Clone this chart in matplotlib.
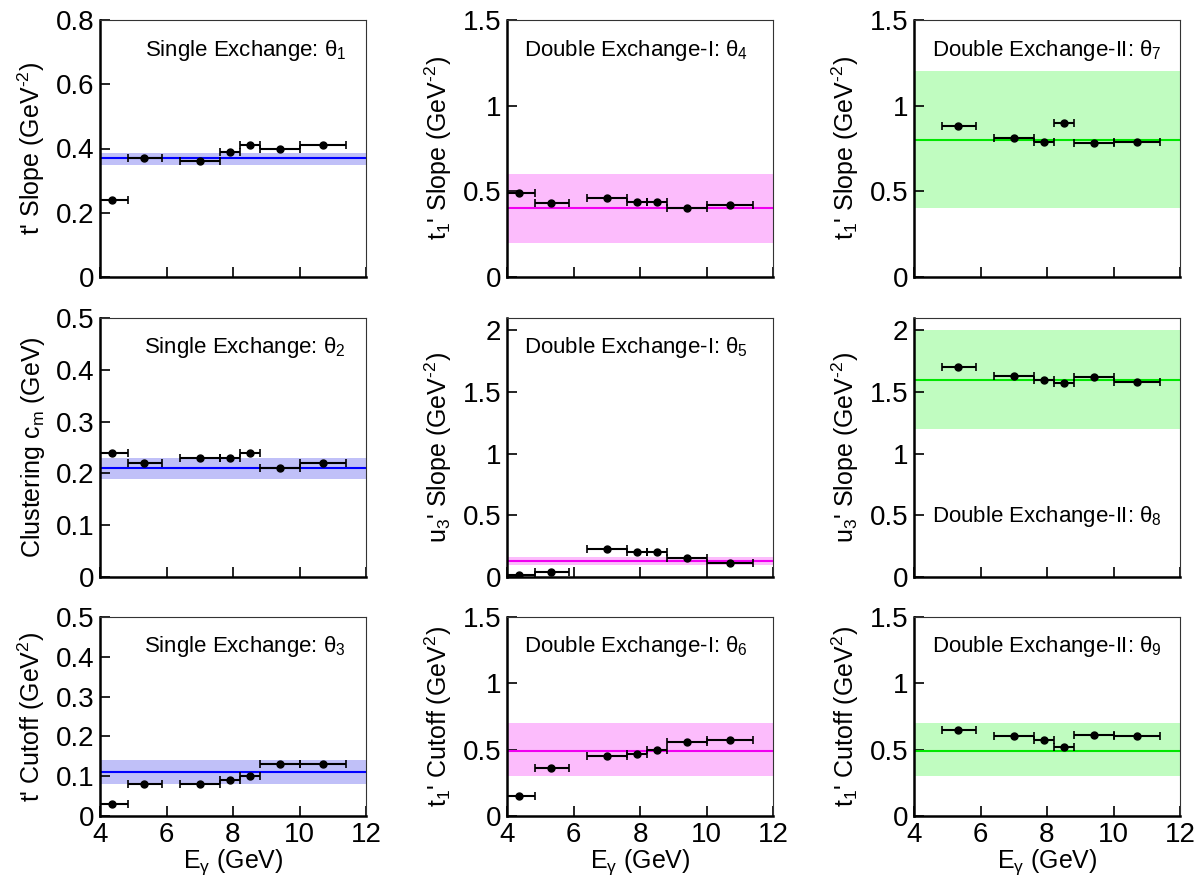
import numpy as np
import matplotlib
matplotlib.use("Agg")
import matplotlib.pyplot as plt
from matplotlib.ticker import FuncFormatter

plt.rcParams['font.family'] = ['Liberation Sans', 'DejaVu Sans']
plt.rcParams['mathtext.fontset'] = 'custom'
plt.rcParams['mathtext.rm'] = 'Liberation Sans'
plt.rcParams['mathtext.it'] = 'Liberation Sans'

# photon energy bins (GeV): centre, lower edge, upper edge
e_cen = [4.35, 5.33, 7.0, 7.9, 8.5, 9.4, 10.7]
e_lo = [4.0, 4.83, 6.4, 7.6, 8.2, 8.8, 10.0]
e_hi = [4.85, 5.85, 7.6, 8.2, 8.8, 10.0, 11.4]

# fitted parameters per bin
theta1 = [0.24, 0.37, 0.36, 0.39, 0.41, 0.40, 0.41]
theta2 = [0.24, 0.22, 0.23, 0.23, 0.24, 0.21, 0.22]
theta3 = [0.03, 0.08, 0.08, 0.09, 0.10, 0.13, 0.13]
theta4 = [0.49, 0.43, 0.46, 0.44, 0.44, 0.40, 0.42]
theta5 = [0.015, 0.04, 0.225, 0.205, 0.205, 0.155, 0.115]
theta6 = [0.15, 0.36, 0.45, 0.47, 0.50, 0.56, 0.57]
theta7 = [None, 0.88, 0.81, 0.79, 0.90, 0.78, 0.79]
theta8 = [None, 1.70, 1.63, 1.60, 1.57, 1.62, 1.58]
theta9 = [None, 0.65, 0.60, 0.57, 0.52, 0.61, 0.60]

# nominal value and allowed range (band) per parameter
nominal = [0.37, 0.21, 0.11, 0.40, 0.13, 0.49, 0.80, 1.60, 0.49]
band_lo = [0.35, 0.19, 0.08, 0.20, 0.10, 0.30, 0.40, 1.20, 0.30]
band_hi = [0.385, 0.23, 0.14, 0.60, 0.16, 0.70, 1.20, 2.00, 0.70]

titles = [r'Single Exchange: $\theta_1$', r'Single Exchange: $\theta_2$',
          r'Single Exchange: $\theta_3$',
          r'Double Exchange-I: $\theta_4$', r'Double Exchange-I: $\theta_5$',
          r'Double Exchange-I: $\theta_6$',
          r'Double Exchange-II: $\theta_7$', r'Double Exchange-II: $\theta_8$',
          r'Double Exchange-II: $\theta_9$']

ylabels = [r"t' Slope (GeV$^{\text{-2}}$)", r"Clustering c$_{m}$ (GeV)",
           r"t' Cutoff (GeV$^{2}$)",
           r"t$_1$' Slope (GeV$^{\text{-2}}$)", r"u$_3$' Slope (GeV$^{\text{-2}}$)",
           r"t$_1$' Cutoff (GeV$^{2}$)",
           r"t$_1$' Slope (GeV$^{\text{-2}}$)", r"u$_3$' Slope (GeV$^{\text{-2}}$)",
           r"t$_1$' Cutoff (GeV$^{2}$)"]

ylims = [0.8, 0.5, 0.5, 1.5, 2.1, 1.5, 1.5, 2.1, 1.5]
ysteps = [0.2, 0.1, 0.1, 0.5, 0.5, 0.5, 0.5, 0.5, 0.5]

series = [theta1, theta2, theta3, theta4, theta5, theta6, theta7, theta8, theta9]
band_colors = ['#c0c0f8', '#fcbcfc', '#c0fcc0']
line_colors = ['#0000ff', '#f000f0', '#00e600']

fig = plt.figure(figsize=(11.96, 8.82), dpi=100)
W, H = 1196, 882
col_left = [100, 507, 914]
col_w = 266
rows = [(20, 277), (318, 577), (617, 816)]
title_dx = [20, 25, 18]
title_y = [0.883, 0.888, 0.854]

for i in range(9):
    col, row = i // 3, i % 3
    top, bot = rows[row]
    ax = fig.add_axes([col_left[col] / W, 1 - bot / H, col_w / W, (bot - top) / H])

    ax.axhspan(band_lo[i], band_hi[i], color=band_colors[col], lw=0, zorder=1)
    ax.axhline(nominal[i], color=line_colors[col], lw=1.5, zorder=2)

    ys = series[i]
    idx = [k for k in range(len(ys)) if ys[k] is not None]
    x = np.array([e_cen[k] for k in idx])
    y = np.array([ys[k] for k in idx])
    xerr = np.array([[e_cen[k] - e_lo[k] for k in idx],
                     [e_hi[k] - e_cen[k] for k in idx]])
    ax.errorbar(x, y, xerr=xerr, fmt='o', color='black', ms=5,
                elinewidth=1.5, capsize=3, capthick=1.2, zorder=3)

    ax.set_xlim(4, 12)
    ax.set_ylim(0, ylims[i])
    ax.set_xticks([4, 6, 8, 10, 12])
    ax.set_yticks(np.arange(0, ylims[i] + 1e-6, ysteps[i]))
    ax.yaxis.set_major_formatter(FuncFormatter(lambda v, p: '%g' % round(v, 3)))
    ax.tick_params(direction='in', length=7, width=1.2, labelsize=20,
                   top=False, right=False, pad=4)
    for s in ['left', 'bottom']:
        ax.spines[s].set_linewidth(1.8)
    for s in ['top', 'right']:
        ax.spines[s].set_linewidth(0.8)
        ax.spines[s].set_color('#333333')

    if row == 2:
        ax.set_xlabel(r'E$_{\gamma}$ (GeV)', fontsize=18, labelpad=0)
    else:
        ax.tick_params(labelbottom=False)
    ax.set_ylabel(ylabels[i], fontsize=18, labelpad=6)

    xr = 1 - title_dx[col] / col_w
    ty = 0.232 if i == 7 else title_y[row]
    ax.text(xr, ty, titles[i], transform=ax.transAxes, ha='right',
            va='center', fontsize=16)

fig.savefig('out.png', dpi=100)
